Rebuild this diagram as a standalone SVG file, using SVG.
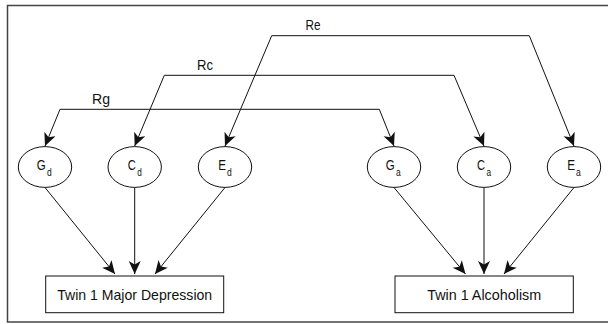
<svg xmlns="http://www.w3.org/2000/svg" width="608" height="324" viewBox="0 0 608 324">
<style>
.ln{fill:none;stroke:#111;stroke-width:1}
.nd{fill:#fff;stroke:#111;stroke-width:1}
.t{font-family:"Liberation Sans Narrow","Liberation Sans",Arial,sans-serif;font-size:15px;fill:#111}
.sb{font-size:11px}
</style>
<defs>
<marker id="ah" markerUnits="userSpaceOnUse" markerWidth="16" markerHeight="14" refX="13" refY="6" orient="auto-start-reverse" viewBox="0 0 16 14">
<path d="M0,0 L13,6 L0,12 L3.5,6 z" fill="#111"/>
</marker>
</defs>
<rect x="7.5" y="5.5" width="610" height="316.5" fill="#fff" stroke="#444" stroke-width="1.5"/>
<g id="connectors">
<path class="ln" d="M45,146 L60,109.3 L379.3,109.3 L394,146" marker-start="url(#ah)" marker-end="url(#ah)"/>
<path class="ln" d="M134.7,146 L164.3,75.3 L454,75.3 L484,146" marker-start="url(#ah)" marker-end="url(#ah)"/>
<path class="ln" d="M225,146 L271.7,35.7 L529.3,35.7 L574,146" marker-start="url(#ah)" marker-end="url(#ah)"/>
<path class="ln" d="M45,187.5 L115,274" marker-end="url(#ah)"/>
<path class="ln" d="M134.7,187.5 L134.7,274" marker-end="url(#ah)"/>
<path class="ln" d="M225,187.5 L155,274" marker-end="url(#ah)"/>
<path class="ln" d="M394,187.5 L465.5,274" marker-end="url(#ah)"/>
<path class="ln" d="M484,187.5 L484,274" marker-end="url(#ah)"/>
<path class="ln" d="M574,187.5 L504,274" marker-end="url(#ah)"/>
<text class="t" x="101" y="104" text-anchor="middle" textLength="18" lengthAdjust="spacingAndGlyphs">Rg</text>
<text class="t" x="205" y="70" text-anchor="middle" textLength="16" lengthAdjust="spacingAndGlyphs">Rc</text>
<text class="t" x="313" y="29.5" text-anchor="middle" textLength="15" lengthAdjust="spacingAndGlyphs">Re</text>
</g>
<g id="Gd"><ellipse class="nd" cx="45" cy="167" rx="26.7" ry="20.4"/><text class="t" x="36.7" y="169.5" textLength="15" lengthAdjust="spacingAndGlyphs">G<tspan class="sb" dx="1.8" dy="6.2">d</tspan></text></g>
<g id="Cd"><ellipse class="nd" cx="134.7" cy="167" rx="26.7" ry="20.4"/><text class="t" x="127.7" y="169.5" textLength="14" lengthAdjust="spacingAndGlyphs">C<tspan class="sb" dx="1.8" dy="6.2">d</tspan></text></g>
<g id="Ed"><ellipse class="nd" cx="225" cy="167" rx="26.7" ry="20.4"/><text class="t" x="218.2" y="169.5" textLength="13.5" lengthAdjust="spacingAndGlyphs">E<tspan class="sb" dx="1.2" dy="6.2">d</tspan></text></g>
<g id="Ga"><ellipse class="nd" cx="394" cy="167" rx="26.7" ry="20.4"/><text class="t" x="385.7" y="169.5" textLength="15" lengthAdjust="spacingAndGlyphs">G<tspan class="sb" dx="1.8" dy="6.2">a</tspan></text></g>
<g id="Ca"><ellipse class="nd" cx="484" cy="167" rx="26.7" ry="20.4"/><text class="t" x="477" y="169.5" textLength="14" lengthAdjust="spacingAndGlyphs">C<tspan class="sb" dx="1.8" dy="6.2">a</tspan></text></g>
<g id="Ea"><ellipse class="nd" cx="574" cy="167" rx="26.7" ry="20.4"/><text class="t" x="567.2" y="169.5" textLength="13.5" lengthAdjust="spacingAndGlyphs">E<tspan class="sb" dx="1.2" dy="6.2">a</tspan></text></g>
<g id="MD"><rect class="nd" x="45.7" y="276" width="178" height="36.7"/><text class="t" x="134.7" y="300" text-anchor="middle" textLength="155" lengthAdjust="spacingAndGlyphs">Twin 1 Major Depression</text></g>
<g id="AL"><rect class="nd" x="395" y="276" width="178.3" height="36.7"/><text class="t" x="484.2" y="300" text-anchor="middle" textLength="114" lengthAdjust="spacingAndGlyphs">Twin 1 Alcoholism</text></g>
</svg>
